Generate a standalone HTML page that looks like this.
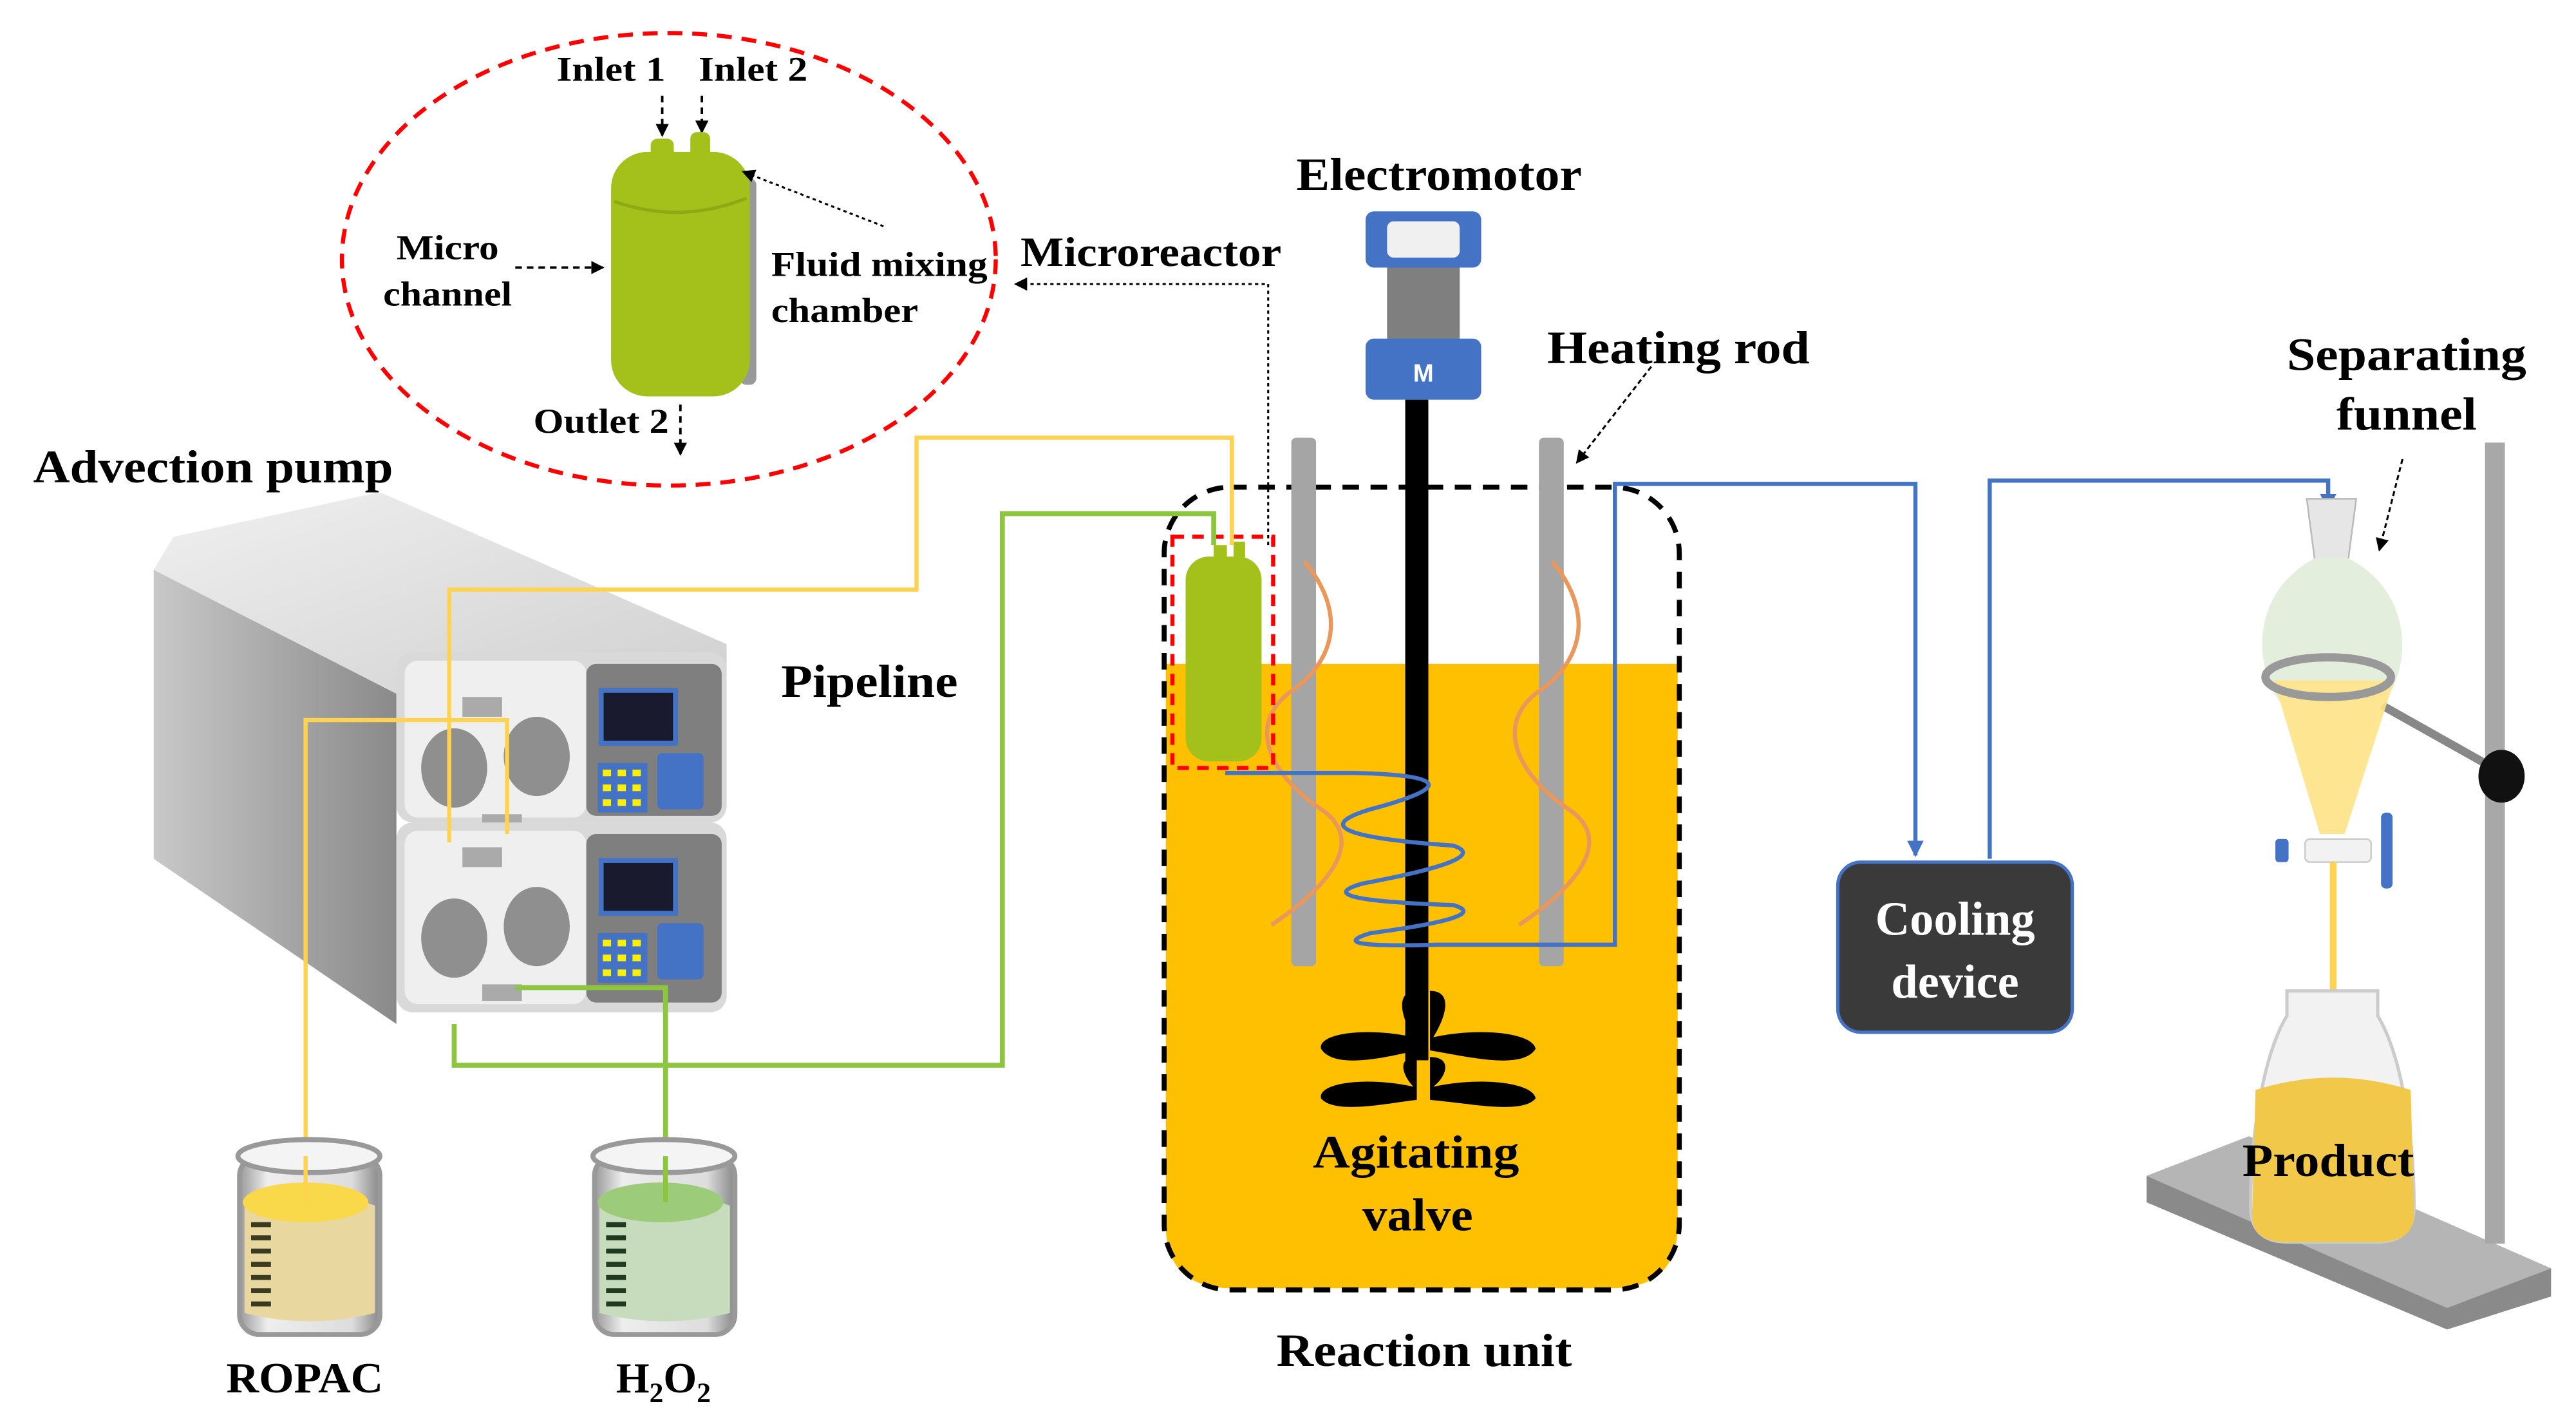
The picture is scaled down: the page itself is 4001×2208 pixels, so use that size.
<!DOCTYPE html>
<html><head><meta charset="utf-8"><style>
html,body{margin:0;padding:0;background:#fff}
svg{display:block}
text{font-family:"Liberation Serif",serif;font-weight:bold;fill:#000}
</style></head><body>
<svg width="4001" height="2208" viewBox="0 0 1560 861" xmlns="http://www.w3.org/2000/svg">
<defs>
<marker id="ah" markerWidth="8" markerHeight="8" refX="7" refY="4" orient="auto" markerUnits="userSpaceOnUse"><path d="M0,0 L8,4 L0,8 z" fill="#000"/></marker>
<marker id="bh" markerWidth="10" markerHeight="10" refX="9" refY="5" orient="auto" markerUnits="userSpaceOnUse"><path d="M0,0 L10,5 L0,10 z" fill="#4472c4"/></marker>
<linearGradient id="side" x1="0" x2="1"><stop offset="0" stop-color="#c8c8c8"/><stop offset="1" stop-color="#8a8a8a"/></linearGradient>
<linearGradient id="topf" x1="0" y1="0" x2="1" y2="1"><stop offset="0" stop-color="#f0f0f0"/><stop offset="1" stop-color="#d0d0d0"/></linearGradient>
<linearGradient id="glass" x1="0" x2="1"><stop offset="0" stop-color="#999"/><stop offset="0.2" stop-color="#eee"/><stop offset="0.8" stop-color="#ddd"/><stop offset="1" stop-color="#888"/></linearGradient>
</defs>

<!-- zoom ellipse -->
<ellipse cx="405" cy="157" rx="198" ry="137" fill="none" stroke="#f00" stroke-width="2.5" stroke-dasharray="9,6"/>
<text x="337" y="49" font-size="21" textLength="66" lengthAdjust="spacingAndGlyphs">Inlet 1</text>
<text x="423" y="49" font-size="21" textLength="66" lengthAdjust="spacingAndGlyphs">Inlet 2</text>
<line x1="401" y1="58" x2="401" y2="82" stroke="#000" stroke-width="1.5" stroke-dasharray="4,3" marker-end="url(#ah)"/>
<line x1="425" y1="58" x2="425" y2="80" stroke="#000" stroke-width="1.5" stroke-dasharray="4,3" marker-end="url(#ah)"/>
<rect x="448" y="108" width="10" height="125" rx="4" fill="#999"/>
<rect x="370" y="92" width="84" height="148" rx="22" fill="#a4c11b"/>
<rect x="394" y="84" width="14" height="12" rx="4" fill="#a4c11b"/>
<rect x="418" y="80" width="12" height="16" rx="4" fill="#a4c11b"/>
<path d="M372,122 Q412,136 452,120" stroke="#8fa814" stroke-width="2" fill="none"/>
<text x="240" y="157" font-size="21" textLength="62" lengthAdjust="spacingAndGlyphs">Micro</text>
<text x="232" y="185" font-size="21" textLength="78" lengthAdjust="spacingAndGlyphs">channel</text>
<line x1="312" y1="162" x2="365" y2="162" stroke="#000" stroke-width="1.5" stroke-dasharray="4,3" marker-end="url(#ah)"/>
<text x="467" y="167" font-size="21" textLength="131" lengthAdjust="spacingAndGlyphs">Fluid mixing</text>
<text x="467" y="195" font-size="21" textLength="89" lengthAdjust="spacingAndGlyphs">chamber</text>
<line x1="535" y1="137" x2="450" y2="104" stroke="#000" stroke-width="1.2" stroke-dasharray="2,2" marker-end="url(#ah)"/>
<text x="323" y="262" font-size="21" textLength="82" lengthAdjust="spacingAndGlyphs">Outlet 2</text>
<line x1="412" y1="245" x2="412" y2="275" stroke="#000" stroke-width="1.5" stroke-dasharray="4,3" marker-end="url(#ah)"/>
<text x="618" y="161" font-size="25" textLength="158" lengthAdjust="spacingAndGlyphs">Microreactor</text>
<polyline points="768,330 768,172 615,172" fill="none" stroke="#000" stroke-width="1.2" stroke-dasharray="2,2" marker-end="url(#ah)"/>

<!-- reaction vessel -->
<path d="M706,402 L1016,402 L1016,742 Q1016,780 976,780 L746,780 Q706,780 706,742 Z" fill="#fec000"/>
<rect x="705" y="295" width="312" height="486" rx="40" fill="none" stroke="#000" stroke-width="3" stroke-dasharray="10,7"/>
<rect x="782" y="265" width="15" height="320" rx="3" fill="#a5a5a5"/>
<rect x="932" y="265" width="15" height="320" rx="3" fill="#a5a5a5"/>
<path d="M790,340 C815,370 810,400 780,420 C755,440 770,470 800,490 C830,510 800,540 770,560 M940,340 C965,370 960,400 930,420 C905,440 920,470 950,490 C980,510 950,540 920,560" fill="none" stroke="#e9975a" stroke-width="2.5"/>
<rect x="851" y="242" width="14" height="400" fill="#000"/>
<!-- motor -->
<rect x="827" y="128" width="70" height="34" rx="5" fill="#4472c4"/>
<rect x="840" y="134" width="44" height="22" rx="4" fill="#f0f0f0"/>
<rect x="840" y="162" width="44" height="44" fill="#7f7f7f"/>
<rect x="827" y="205" width="70" height="37" rx="5" fill="#4472c4"/>
<text x="862" y="231" font-size="15" text-anchor="middle" style="font-family:'Liberation Sans',sans-serif;fill:#fff">M</text>
<text x="785" y="115" font-size="28" textLength="173" lengthAdjust="spacingAndGlyphs">Electromotor</text>
<text x="937" y="220" font-size="28" textLength="159" lengthAdjust="spacingAndGlyphs">Heating rod</text>
<line x1="1000" y1="222" x2="955" y2="280" stroke="#000" stroke-width="1.2" stroke-dasharray="3,2" marker-end="url(#ah)"/>
<!-- blades -->
<path d="M858,600 C845,600 848,615 856,628 C830,622 798,625 800,635 C808,648 840,640 858,636 Z M866,600 C880,600 876,615 868,628 C895,622 928,625 930,635 C922,648 890,640 866,636 Z" fill="#000"/>
<path d="M858,640 C845,640 850,652 856,658 C830,652 798,655 800,665 C808,675 840,668 858,666 Z M866,640 C880,640 876,652 868,658 C895,652 928,655 930,665 C922,675 890,668 866,666 Z" fill="#000"/>
<text x="795" y="707" font-size="28" textLength="125" lengthAdjust="spacingAndGlyphs">Agitating</text>
<text x="825" y="745" font-size="28" textLength="67" lengthAdjust="spacingAndGlyphs">valve</text>
<text x="773" y="827" font-size="28" textLength="179" lengthAdjust="spacingAndGlyphs">Reaction unit</text>

<!-- small microreactor -->
<rect x="718" y="337" width="46" height="124" rx="14" fill="#a4c11b"/>
<rect x="735" y="330" width="8" height="10" fill="#a4c11b"/>
<rect x="747" y="328" width="7" height="12" fill="#a4c11b"/>
<rect x="710" y="325" width="61" height="140" fill="none" stroke="#f00" stroke-width="2.5" stroke-dasharray="7,5"/>

<!-- blue pipes -->
<path d="M742,468 L820,468 Q905,470 830,490 Q780,505 880,512 Q905,520 825,535 Q790,545 880,548 Q905,555 830,565 Q800,574 870,572 L978,572 L978,293 L1160,293 L1160,518" fill="none" stroke="#4472c4" stroke-width="2.5" marker-end="url(#bh)"/>
<polyline points="1205,520 1205,291 1410,291 1410,308" fill="none" stroke="#4472c4" stroke-width="2.5" marker-end="url(#bh)"/>
<!-- cooling -->
<rect x="1113" y="522" width="142" height="103" rx="14" fill="#3a3a3a" stroke="#4472c4" stroke-width="2"/>
<text x="1184" y="566" font-size="29" text-anchor="middle" style="fill:#fff">Cooling</text>
<text x="1184" y="604" font-size="29" text-anchor="middle" style="fill:#fff">device</text>

<!-- stand -->
<polygon points="1300,712 1362,688 1545,768 1545,785 1482,805 1300,728" fill="#8a8a8a"/>
<polygon points="1300,712 1362,688 1545,768 1482,792" fill="#b5b5b5"/>
<rect x="1505" y="268" width="12" height="485" fill="#a8a8a8"/>
<line x1="1430" y1="420" x2="1510" y2="465" stroke="#888" stroke-width="5"/>
<ellipse cx="1515" cy="470" rx="14" ry="16" fill="#111"/>
<!-- funnel -->
<polygon points="1397,302 1427,302 1422,340 1402,340" fill="#e6e6e6" stroke="#bbb"/>
<path d="M1402,338 C1360,360 1365,410 1385,430 L1405,505 L1420,505 L1440,430 C1460,410 1465,360 1422,338 Z" fill="#e3efdc"/>
<path d="M1377,412 L1450,412 L1420,505 L1405,505 Z" fill="#ffe38a" opacity="0.9"/>
<ellipse cx="1410" cy="410" rx="38" ry="12" fill="none" stroke="#999" stroke-width="5"/>
<rect x="1396" y="508" width="40" height="14" rx="3" fill="#f2f2f2" stroke="#ccc"/>
<rect x="1378" y="508" width="8" height="14" rx="2" fill="#4472c4"/>
<rect x="1442" y="492" width="7" height="46" rx="3" fill="#4472c4"/>
<line x1="1413" y1="522" x2="1413" y2="612" stroke="#ffd34f" stroke-width="4"/>
<ellipse cx="1413" cy="632" rx="6" ry="11" fill="#f6b800"/>
<!-- product flask -->
<path d="M1385,600 L1440,600 L1440,615 C1455,640 1462,690 1462,730 Q1462,752 1440,752 L1385,752 Q1363,752 1363,730 C1363,690 1370,640 1385,615 Z" fill="#f2f2f2" stroke="#ccc" stroke-width="2"/>
<path d="M1366,660 Q1413,645 1460,660 L1462,735 Q1462,752 1440,752 L1385,752 Q1363,752 1364,735 Z" fill="#f1c84a"/>
<text x="1358" y="712" font-size="28" textLength="104" lengthAdjust="spacingAndGlyphs">Product</text>
<text x="1385" y="224" font-size="28" textLength="145" lengthAdjust="spacingAndGlyphs">Separating</text>
<text x="1415" y="260" font-size="28" textLength="85" lengthAdjust="spacingAndGlyphs">funnel</text>
<line x1="1455" y1="278" x2="1441" y2="333" stroke="#000" stroke-width="1.2" stroke-dasharray="3,2" marker-end="url(#ah)"/>

<!-- pumps -->
<text x="20" y="292" font-size="28" textLength="218" lengthAdjust="spacingAndGlyphs">Advection pump</text>
<text x="473" y="422" font-size="28" textLength="107" lengthAdjust="spacingAndGlyphs">Pipeline</text>
<polygon points="93,345 240,420 240,620 93,520" fill="url(#side)"/>
<polygon points="93,345 105,325 230,298 440,390 440,405 240,420" fill="url(#topf)"/>
<g>
<rect x="240" y="395" width="200" height="103" rx="10" fill="#d9d9d9"/>
<rect x="245" y="400" width="110" height="95" rx="8" fill="#efefef"/>
<rect x="355" y="402" width="82" height="92" rx="6" fill="#7f7f7f"/>
<rect x="364" y="418" width="45" height="32" fill="#1a1a2e" stroke="#4472c4" stroke-width="3"/>
<rect x="362" y="462" width="30" height="30" fill="#4472c4"/>
<rect x="398" y="456" width="28" height="34" rx="3" fill="#4472c4"/>
<g fill="#ffef00"><rect x="365" y="466" width="5" height="4"/><rect x="374" y="466" width="5" height="4"/><rect x="383" y="466" width="5" height="4"/><rect x="365" y="475" width="5" height="4"/><rect x="374" y="475" width="5" height="4"/><rect x="383" y="475" width="5" height="4"/><rect x="365" y="484" width="5" height="4"/><rect x="374" y="484" width="5" height="4"/><rect x="383" y="484" width="5" height="4"/></g>
<ellipse cx="275" cy="465" rx="20" ry="24" fill="#8f8f8f"/><ellipse cx="325" cy="458" rx="20" ry="24" fill="#8f8f8f"/>
<rect x="280" y="422" width="24" height="12" fill="#aaa"/><rect x="292" y="493" width="24" height="10" fill="#aaa"/>
</g>
<g transform="translate(0,103)">
<rect x="240" y="395" width="200" height="115" rx="10" fill="#d9d9d9"/>
<rect x="245" y="400" width="110" height="105" rx="8" fill="#efefef"/>
<rect x="355" y="402" width="82" height="102" rx="6" fill="#7f7f7f"/>
<rect x="364" y="418" width="45" height="32" fill="#1a1a2e" stroke="#4472c4" stroke-width="3"/>
<rect x="362" y="462" width="30" height="30" fill="#4472c4"/>
<rect x="398" y="456" width="28" height="34" rx="3" fill="#4472c4"/>
<g fill="#ffef00"><rect x="365" y="466" width="5" height="4"/><rect x="374" y="466" width="5" height="4"/><rect x="383" y="466" width="5" height="4"/><rect x="365" y="475" width="5" height="4"/><rect x="374" y="475" width="5" height="4"/><rect x="383" y="475" width="5" height="4"/><rect x="365" y="484" width="5" height="4"/><rect x="374" y="484" width="5" height="4"/><rect x="383" y="484" width="5" height="4"/></g>
<ellipse cx="275" cy="465" rx="20" ry="24" fill="#8f8f8f"/><ellipse cx="325" cy="458" rx="20" ry="24" fill="#8f8f8f"/>
<rect x="280" y="410" width="24" height="12" fill="#aaa"/><rect x="292" y="493" width="24" height="10" fill="#aaa"/>
</g>

<!-- yellow/green pipes drawn over pumps -->
<polyline points="272,510 272,357 555,357 555,265 746,265 746,330" fill="none" stroke="#ffd34f" stroke-width="2.5"/>
<polyline points="185,725 185,436 307,436 307,505" fill="none" stroke="#ffd34f" stroke-width="2.5"/>
<polyline points="275,620 275,645 607,645 607,311 735,311 735,330" fill="none" stroke="#8cc63f" stroke-width="3"/>
<polyline points="403,725 403,598 312,598" fill="none" stroke="#8cc63f" stroke-width="3"/>

<!-- beakers -->
<rect x="145" y="700" width="85" height="108" rx="12" fill="url(#glass)" stroke="#999" stroke-width="3"/>
<ellipse cx="187" cy="700" rx="43" ry="10" fill="#f4f4f4" stroke="#999" stroke-width="3"/>
<path d="M148,730 Q187,715 227,730 L227,795 Q187,805 148,795 Z" fill="#e9d7a0"/>
<ellipse cx="185" cy="728" rx="38" ry="12" fill="#f9d84a"/>
<g fill="#3a3a20"><rect x="152" y="740" width="12" height="3"/><rect x="152" y="748" width="12" height="3"/><rect x="152" y="756" width="12" height="3"/><rect x="152" y="764" width="12" height="3"/><rect x="152" y="772" width="12" height="3"/><rect x="152" y="780" width="12" height="3"/><rect x="152" y="788" width="12" height="3"/></g>
<rect x="360" y="700" width="85" height="108" rx="12" fill="url(#glass)" stroke="#999" stroke-width="3"/>
<ellipse cx="402" cy="700" rx="43" ry="10" fill="#f4f4f4" stroke="#999" stroke-width="3"/>
<path d="M363,730 Q402,715 442,730 L442,795 Q402,805 363,795 Z" fill="#c6dcbc"/>
<ellipse cx="400" cy="728" rx="38" ry="12" fill="#9ccc7a"/>
<g fill="#1f3a1f"><rect x="367" y="740" width="12" height="3"/><rect x="367" y="748" width="12" height="3"/><rect x="367" y="756" width="12" height="3"/><rect x="367" y="764" width="12" height="3"/><rect x="367" y="772" width="12" height="3"/><rect x="367" y="780" width="12" height="3"/><rect x="367" y="788" width="12" height="3"/></g>
<line x1="185" y1="700" x2="185" y2="728" stroke="#ffd34f" stroke-width="2.5"/>
<line x1="403" y1="700" x2="403" y2="728" stroke="#8cc63f" stroke-width="3"/>
<text x="137" y="843" font-size="26" textLength="95" lengthAdjust="spacingAndGlyphs">ROPAC</text>
<text x="373" y="843" font-size="26">H<tspan font-size="17" dy="6">2</tspan><tspan dy="-6">O</tspan><tspan font-size="17" dy="6">2</tspan></text>
</svg>
</body></html>
